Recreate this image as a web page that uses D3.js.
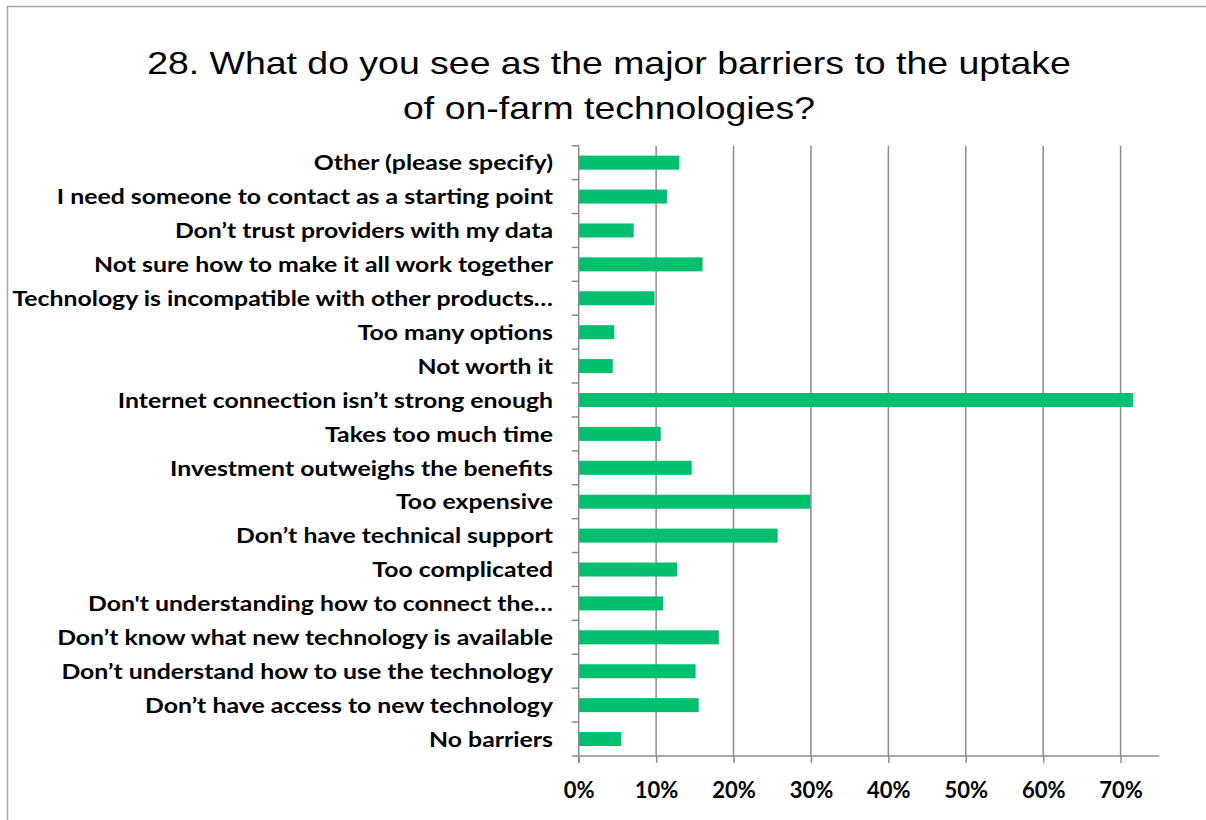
<!DOCTYPE html>
<html>
<head>
<meta charset="utf-8">
<script src="https://cdn.jsdelivr.net/npm/d3@7"></script>
<style>
  html, body { margin: 0; padding: 0; background: #fff; }
  svg { display: block; }
</style>
</head>
<body>
<svg id="chart" width="1206" height="820"></svg>
<script>
// Survey question 28: barriers to on-farm technology uptake (share of respondents)
const titleLines = [
  "28. What do you see as the major barriers to the uptake",
  "of on-farm technologies?"
];

// Categories listed top to bottom
const categories = [
  "Other (please specify)",
  "I need someone to contact as a starting point",
  "Don’t trust providers with my data",
  "Not sure how to make it all work together",
  "Technology is incompatible with other products…",
  "Too many options",
  "Not worth it",
  "Internet connection isn’t strong enough",
  "Takes too much time",
  "Investment outweighs the benefits",
  "Too expensive",
  "Don’t have technical support",
  "Too complicated",
  "Don't understanding how to connect the…",
  "Don’t know what new technology is available",
  "Don’t understand how to use the technology",
  "Don’t have access to new technology",
  "No barriers"
];

// Share of respondents selecting each barrier
const shares = [
  0.130, 0.114, 0.071, 0.160, 0.098, 0.046, 0.044, 0.716, 0.106,
  0.146, 0.299, 0.257, 0.127, 0.109, 0.181, 0.151, 0.155, 0.055
];

const tickValues = [0, 0.1, 0.2, 0.3, 0.4, 0.5, 0.6, 0.7];
const xMax = 0.75;

const svg = d3.select("#chart");
const W = 1206, H = 820;

// Outer chart frame
svg.append("rect")
  .attr("x", 7.5).attr("y", 6.5)
  .attr("width", W + 20).attr("height", H + 20)
  .attr("fill", "#fff")
  .attr("stroke", "#a6a6a6").attr("stroke-width", 1.5);

// Title, slightly widened type
const title = svg.append("g");
titleLines.forEach((t, i) => {
  title.append("text")
    .attr("transform", `translate(609,${74 + i * 45}) scale(1.17,1)`)
    .attr("text-anchor", "middle")
    .attr("font-family", "'Liberation Sans', Arial, sans-serif")
    .attr("font-size", 32)
    .attr("fill", "#000")
    .text(t);
});

const plot = { left: 578.7, right: 1159.3, top: 145.7, bottom: 756 };

const x = d3.scaleLinear().domain([0, xMax]).range([plot.left, plot.right]);
const y = d3.scaleBand().domain(categories)
  .range([plot.top, plot.bottom])
  .paddingInner(0.587).paddingOuter(0.2935);

const labelFont = "Lato, 'Open Sans', sans-serif";

// Vertical gridlines
svg.append("g")
  .selectAll("line")
  .data(tickValues.filter(v => v > 0))
  .join("line")
  .attr("x1", d => x(d)).attr("x2", d => x(d))
  .attr("y1", plot.top).attr("y2", plot.bottom)
  .attr("stroke", "#8c8c8c").attr("stroke-width", 1.5);

// Bars
svg.append("g")
  .selectAll("rect")
  .data(categories.map((c, i) => ({ c, v: shares[i] })))
  .join("rect")
  .attr("x", x(0))
  .attr("y", d => y(d.c))
  .attr("width", d => x(d.v) - x(0))
  .attr("height", y.bandwidth())
  .attr("fill", "#00bf6f");

// Category axis: ticks sit between categories
const step = y.step();
const yAxisG = svg.append("g");
yAxisG.append("line")
  .attr("x1", plot.left).attr("x2", plot.left)
  .attr("y1", plot.top).attr("y2", plot.bottom + 7)
  .attr("stroke", "#8c8c8c").attr("stroke-width", 1.5);
yAxisG.selectAll("line.tick")
  .data(d3.range(categories.length))
  .join("line").attr("class", "tick")
  .attr("x1", plot.left - 7).attr("x2", plot.left)
  .attr("y1", i => plot.top + i * step).attr("y2", i => plot.top + i * step)
  .attr("stroke", "#8c8c8c").attr("stroke-width", 1.5);
yAxisG.selectAll("text")
  .data(categories)
  .join("text")
  .attr("transform", d => `translate(553,${y(d) + y.bandwidth() / 2}) scale(1.155,1)`)
  .attr("dy", "0.36em")
  .attr("text-anchor", "end")
  .attr("font-family", labelFont)
  .attr("font-weight", 700)
  .attr("font-size", 21.5)
  .attr("fill", "#000")
  .text(d => d);

// Value axis
const xAxis = d3.axisBottom(x)
  .tickValues(tickValues)
  .tickFormat(d3.format(".0%"))
  .tickSize(7)
  .tickSizeOuter(0);
const xAxisG = svg.append("g")
  .attr("transform", `translate(0,${plot.bottom})`)
  .call(xAxis);
xAxisG.select(".domain")
  .attr("d", `M${plot.left - 7},0H${plot.right}`)
  .attr("stroke", "#8c8c8c").attr("stroke-width", 1.5);
xAxisG.selectAll(".tick line").attr("stroke", "#8c8c8c").attr("stroke-width", 1.5);
xAxisG.selectAll(".tick text")
  .attr("y", 42)
  .attr("dy", 0)
  .attr("font-family", labelFont)
  .attr("font-weight", 700)
  .attr("font-size", 22)
  .attr("fill", "#000");
</script>
</body>
</html>
